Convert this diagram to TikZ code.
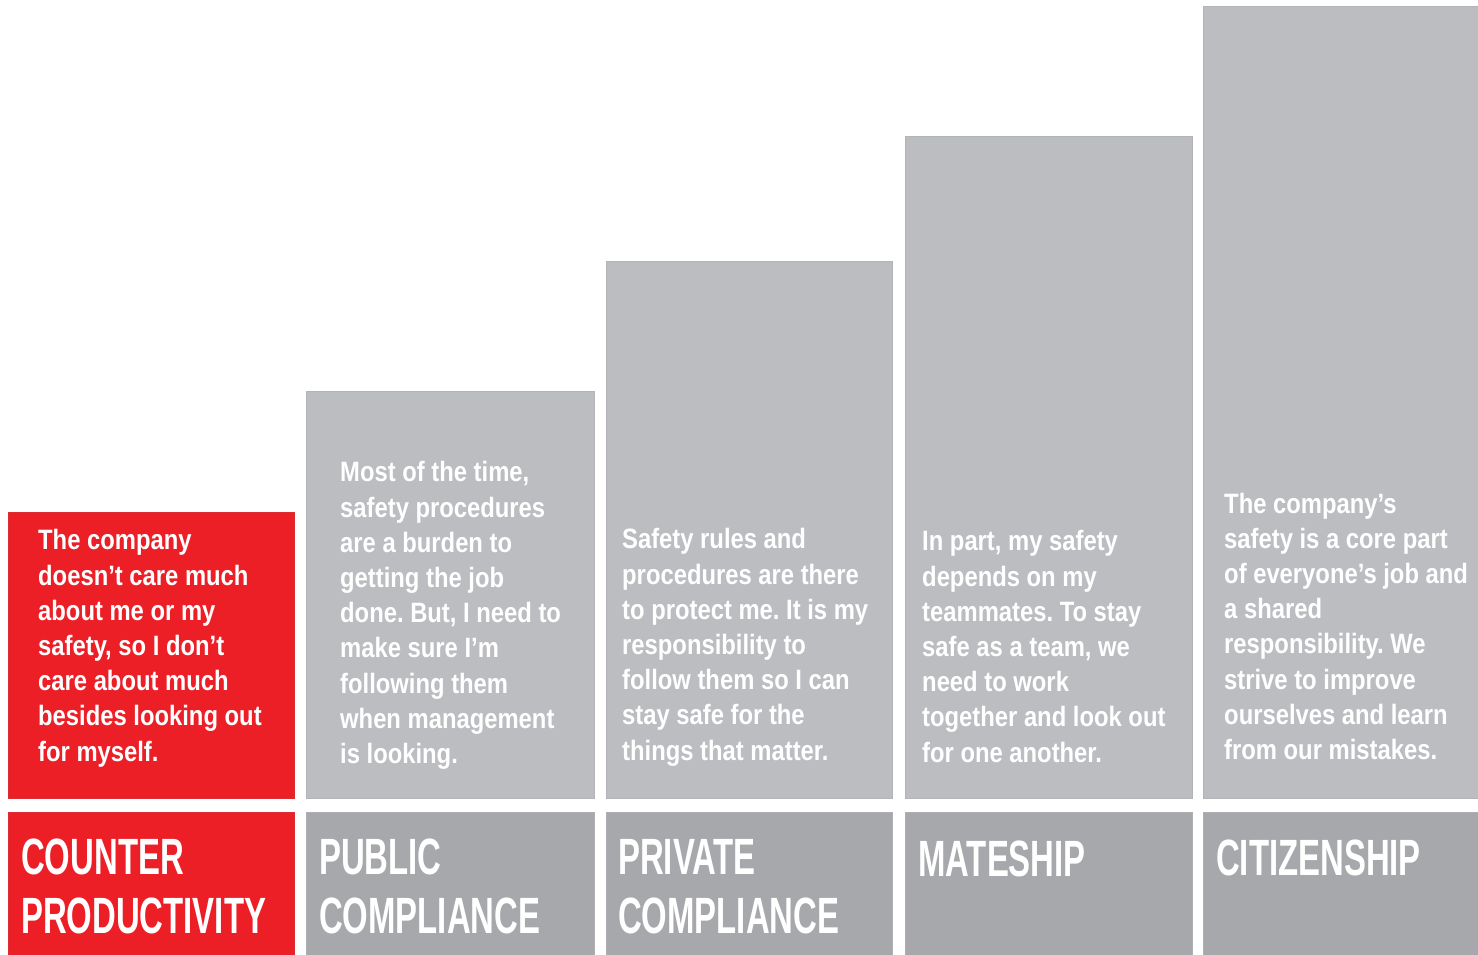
\documentclass[tikz,border=0pt]{standalone}
\usepackage{fontspec}
\frenchspacing
\newfontfamily\bodyfont[FakeStretch=0.85]{Liberation Sans Bold}
\newfontfamily\headfont[FakeStretch=0.645]{Liberation Sans Bold}
\definecolor{alarmred}{HTML}{EC1F27}
\definecolor{uppergray}{HTML}{BCBDC1}
\definecolor{lowergray}{HTML}{A7A8AC}
\begin{document}
\begin{tikzpicture}[x=1pt,y=-1pt,
  panel/.style={rectangle, anchor=north west, inner sep=0pt, outer sep=0pt},
  redpanel/.style={panel, fill=alarmred, draw=alarmred!85!gray, line width=0.8pt},
  graypanel/.style={panel, fill=uppergray, draw=uppergray!95!black, line width=0.8pt},
  labelpanel/.style={panel, fill=lowergray, draw=lowergray!92!white, line width=0.8pt},
  % multi-line nodes are placed by the baseline of their last line
  bodytext/.style={anchor=base west, inner sep=0pt, align=left, text=white,
    font=\bodyfont\fontsize{28}{35.2}\selectfont},
  headtext/.style={anchor=base west, inner sep=0pt, align=left, text=white,
    font=\headfont\fontsize{51}{59}\selectfont}]
\useasboundingbox (0,0) rectangle (1478,955);
\fill[white] (0,0) rectangle (1478,955);

% upper panels: height grows step by step
\node[redpanel,  minimum width=286pt, minimum height=286pt] (p1) at (8,512) {};
\node[graypanel, minimum width=288pt, minimum height=407pt] (p2) at (306,391) {};
\node[graypanel, minimum width=286pt, minimum height=537pt] (p3) at (606,261) {};
\node[graypanel, minimum width=287pt, minimum height=662pt] (p4) at (905,136) {};
\node[graypanel, minimum width=280pt, minimum height=792pt] (p5) at (1203,6) {};

% lower label panels
\node[redpanel,   minimum width=286pt, minimum height=150pt] (l1) at (8,812) {};
\node[labelpanel, minimum width=288pt, minimum height=150pt] (l2) at (306,812) {};
\node[labelpanel, minimum width=286pt, minimum height=150pt] (l3) at (606,812) {};
\node[labelpanel, minimum width=287pt, minimum height=150pt] (l4) at (905,812) {};
\node[labelpanel, minimum width=280pt, minimum height=150pt] (l5) at (1203,812) {};

% descriptions
\node[bodytext] (t1) at (38,761) {The company\\doesn’t care much\\about me or my\\safety, so I don’t\\care about much\\besides looking out\\for myself.};
\node[bodytext] (t2) at (340,763.5) {Most of the time,\\safety procedures\\are a burden to\\getting the job\\done. But, I need to\\make sure I’m\\following them\\when management\\is looking.};
\node[bodytext] (t3) at (622,760) {Safety rules and\\procedures are there\\to protect me. It is my\\responsibility to\\follow them so I can\\stay safe for the\\things that matter.};
\node[bodytext] (t4) at (922,762) {In part, my safety\\depends on my\\teammates. To stay\\safe as a team, we\\need to work\\together and look out\\for one another.};
\node[bodytext] (t5) at (1224,759.5) {The company’s\\safety is a core part\\of everyone’s job and\\a shared\\responsibility. We\\strive to improve\\ourselves and learn\\from our mistakes.};

% stage names
\node[headtext] (h1) at (21,933) {COUNTER\\PRODUCTIVITY};
\node[headtext] (h2) at (319,933) {PUBLIC\\COMPLIANCE};
\node[headtext] (h3) at (618,933) {PRIVATE\\COMPLIANCE};
\node[headtext] (h4) at (918,876) {MATESHIP};
\node[headtext] (h5) at (1216,875) {CITIZENSHIP};
\end{tikzpicture}
\end{document}
